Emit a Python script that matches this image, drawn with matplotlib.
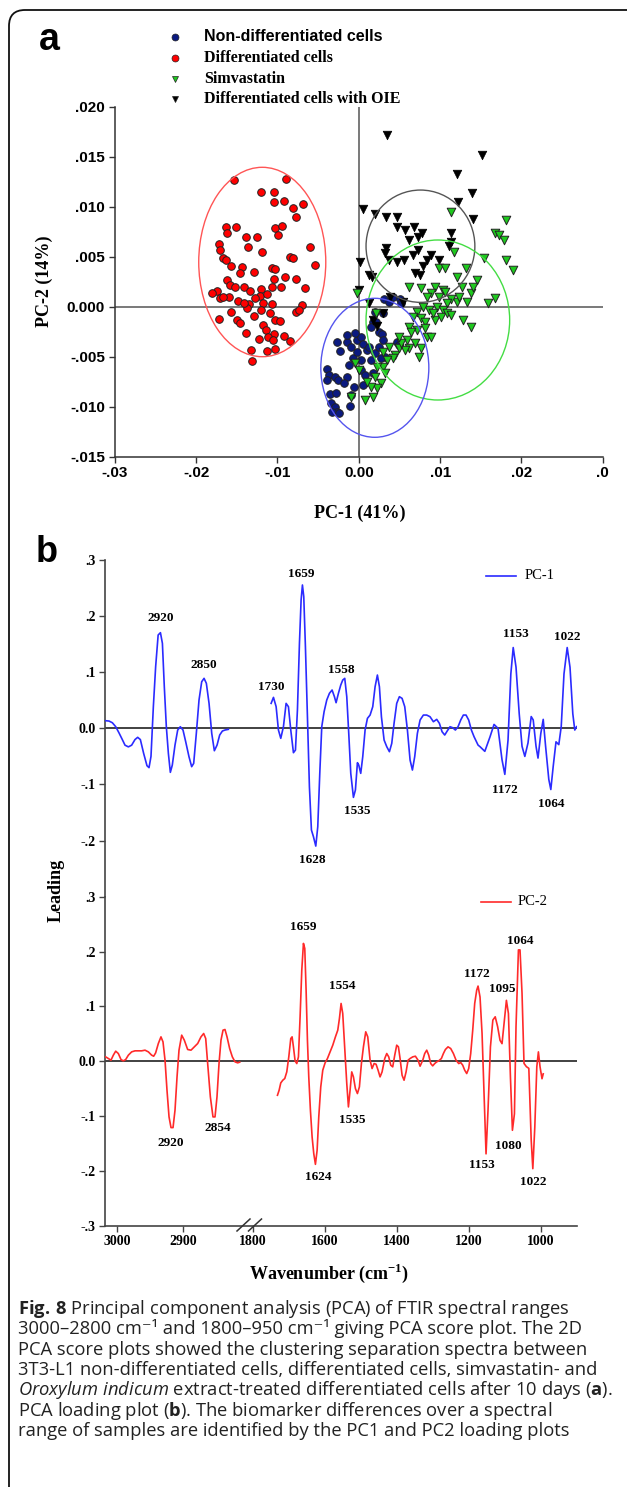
import numpy as np
import matplotlib
matplotlib.use("Agg")
import matplotlib.pyplot as plt
from matplotlib.patches import Ellipse, FancyBboxPatch
from matplotlib.lines import Line2D
from matplotlib.transforms import IdentityTransform

# ---------------- data: panel a (PCA scores) ----------------
nondiff_x = [0.00305, 0.00418, 0.00502, 0.00517, 0.00369, 0.00197, 0.00295, 0.00172, 0.00148, 0.00246,
             0.00207, -0.00271, -0.00148, -0.00025, -0.00098, 0.00025, 0.00049, 0.00098, 0.0028, 0.00295,
             0.00197, 0.0032, -0.00231, -0.00074, 0.00025, 0.00148, 0.00271, -0.00394, -0.00364, -0.00295,
             -0.00256, -0.00148, -0.00187, -0.00123, 0.00025, 0.00074, -0.00059, 0.00172, -0.00354, -0.00285,
             -0.00344, -0.00295, -0.00271, -0.00335, -0.00246, -0.00108, -0.00098, 0.00049, 0.00467, 0.00492,
             -0.00148, -0.00049, 0.00123, 0.00246, -0.00025, -0.00394]
nondiff_y = [0.00077, 0.001, 0.00073, 0.0004, 0.0005, -0.0005, -0.00067, -0.0015, -0.002, -0.0025,
             -0.0015, -0.0035, -0.00357, -0.00333, -0.004, -0.003, -0.00373, -0.00433, -0.00273, -0.00333,
             -0.00467, -0.005, -0.0044, -0.00517, -0.00533, -0.00533, -0.00517, -0.00627, -0.00683, -0.00707,
             -0.00733, -0.007, -0.00767, -0.00583, -0.00633, -0.00683, -0.008, -0.00667, -0.00873, -0.00867,
             -0.00967, -0.01, -0.0105, -0.0105, -0.01067, -0.0099, -0.00883, -0.00783, -0.0035, -0.00383,
             -0.00283, -0.00267, -0.004, -0.004, -0.0045, -0.00733]

diff_x = [-0.0154, -0.01205, -0.01048, -0.009, -0.01048, -0.00925, -0.00812, -0.00689, -0.00772, -0.01638,
          -0.01515, -0.01624, -0.01392, -0.01255, -0.01368, -0.01033, -0.00945, -0.00999, -0.01722, -0.01707,
          -0.01196, -0.00605, -0.01673, -0.01638, -0.01574, -0.01442, -0.00851, -0.00812, -0.00541, -0.01068,
          -0.01033, -0.01461, -0.01294, -0.01043, -0.0091, -0.01624, -0.01584, -0.01525, -0.01412, -0.01747,
          -0.01806, -0.01205, -0.01068, -0.00959, -0.00772, -0.00664, -0.01707, -0.01599, -0.01338, -0.0122,
          -0.01132, -0.01491, -0.01353, -0.01181, -0.01073, -0.00704, -0.01574, -0.01205, -0.01092, -0.00777,
          -0.00738, -0.01722, -0.01501, -0.01466, -0.01294, -0.01033, -0.00969, -0.01181, -0.01387, -0.01141,
          -0.01043, -0.01122, -0.0123, -0.01058, -0.00925, -0.00846, -0.01328, -0.01132, -0.01033, -0.01319,
          -0.01378, -0.01673, -0.01279, -0.01417]
diff_y = [0.01267, 0.01143, 0.01143, 0.01273, 0.0105, 0.0106, 0.0099, 0.01027, 0.00893, 0.00793,
          0.008, 0.0074, 0.00693, 0.007, 0.006, 0.00783, 0.00807, 0.00717, 0.00627, 0.00567,
          0.0055, 0.006, 0.00483, 0.00467, 0.00407, 0.004, 0.005, 0.0049, 0.0042, 0.00383,
          0.00373, 0.0034, 0.0035, 0.00273, 0.003, 0.00267, 0.00217, 0.002, 0.002, 0.0016,
          0.00133, 0.00173, 0.002, 0.002, 0.00273, 0.00183, 0.0009, 0.001, 0.0016, 0.00107,
          0.00127, 0.00057, 0.00027, 0.00033, 0.00023, 0.00017, -0.0005, -0.00033, -0.00067, -0.00057,
          -0.00033, -0.00127, -0.00133, -0.00167, -0.00093, -0.00133, -0.00143, -0.00187, -0.0026, -0.00233,
          -0.00277, -0.003, -0.00327, -0.00333, -0.00293, -0.00343, -0.00433, -0.00443, -0.00427, -0.00543,
          -0.00017, 0.001, 0.00083, 0.0004]

simva_x = [0.01132, 0.01811, 0.01673, 0.01722, 0.01781, 0.01535, 0.01811, 0.01894, 0.01176, 0.00984,
           0.01058, 0.01314, 0.01451, 0.0121, 0.00935, 0.01033, 0.01269, 0.01378, 0.01673, 0.01584,
           0.01328, 0.01205, 0.01132, 0.00615, 0.00763, 0.00886, 0.00984, 0.01082, 0.00959, 0.01033,
           0.00861, 0.00713, 0.00664, 0.00763, 0.00812, 0.00935, 0.01009, 0.01082, 0.01279, 0.01378,
           0.00615, 0.00713, 0.0064, 0.00812, 0.00836, 0.00886, 0.0059, 0.00689, 0.00763, 0.00615,
           0.00566, 0.00738, 0.00443, 0.00418, 0.00344, 0.00295, 0.0032, 0.00271, 0.00221, 0.00148,
           0.00172, 0.00074, 0.00197, 0.00098, -0.00098, -0.00049, 0.0, 0.00221, -0.0002, 0.00492,
           0.00517, 0.00787, 0.01132, 0.0091, 0.0123, 0.01402, 0.00492, 0.00369, 0.00295, 0.01058,
           0.00836, 0.00212]
simva_y = [0.0095, 0.00867, 0.0074, 0.00717, 0.00667, 0.00483, 0.00467, 0.00367, 0.0055, 0.0039,
           0.0039, 0.00383, 0.00267, 0.003, 0.002, 0.00167, 0.002, 0.00133, 0.00083, 0.00033,
           0.0005, 0.0005, 0.00073, 0.002, 0.00183, 0.00133, 0.001, 0.00033, 0.0, -0.00033,
           -0.00033, -0.0005, -0.001, -0.00117, -0.0015, -0.00133, -0.001, -0.00067, -0.00133, -0.002,
           -0.002, -0.00233, -0.0025, -0.00217, -0.003, -0.003, -0.00333, -0.00367, -0.00417, -0.00417,
           -0.00433, -0.005, -0.00483, -0.00517, -0.00533, -0.006, -0.00667, -0.00767, -0.00817, -0.008,
           -0.009, -0.00933, -0.007, -0.0075, -0.009, -0.00567, -0.00633, -0.006, 0.00133, -0.00417,
           -0.00367, 0.0, -0.00083, -0.00067, 0.001, 0.002, -0.003, -0.004, -0.0045, 0.0015,
           0.001, -0.0006]

oie_x = [0.00344, 0.01515, 0.01205, 0.01392, 0.01215, 0.00049, 0.00197, 0.00335, 0.00472, 0.00472,
         0.00674, 0.00566, 0.00772, 0.00728, 0.00615, 0.01136, 0.01402, 0.0033, 0.00325, 0.00472,
         0.00551, 0.00369, 0.00664, 0.00728, 0.00891, 0.00841, 0.00787, 0.00758, 0.0002, 0.00123,
         0.00157, 0.01132, 0.01107, 0.0, 0.00123, 0.00295, 0.00172, 0.00221, 0.00384, 0.00541,
         0.00984, 0.00689]
oie_y = [0.0172, 0.01517, 0.01323, 0.0114, 0.0105, 0.00973, 0.00927, 0.009, 0.00893, 0.00793,
         0.008, 0.00767, 0.0074, 0.007, 0.00667, 0.00733, 0.00877, 0.00583, 0.00533, 0.0045,
         0.00467, 0.00467, 0.00517, 0.00567, 0.00517, 0.00467, 0.00407, 0.00317, 0.0045, 0.00317,
         0.00293, 0.0065, 0.00607, 0.00167, 0.0004, -0.0006, -0.00133, -0.00193, 0.001, 0.0005,
         0.00467, 0.00333]

# confidence ellipses: centre x, centre y, width, height
ell_diff = (-0.01187, 0.00447, 0.01562, 0.01894)
ell_oie = (0.00758, 0.00605, 0.01338, 0.01123)
ell_simva = (0.00972, -0.00133, 0.01766, 0.0160)
ell_nondiff = (0.00197, -0.00611, 0.01328, 0.0139)

a_xticks = [-0.03, -0.02, -0.01, 0.0, 0.01, 0.02, 0.03]
a_xticklabels = ["-.03", "-.02", "-.01", "0.00", ".01", ".02", ".0"]
a_yticks = [-0.015, -0.010, -0.005, 0.0, 0.005, 0.010, 0.015, 0.020]
a_yticklabels = ["-.015", "-.010", "-.005", "0.000", ".005", ".010", ".015", ".020"]

# ---------------- data: panel b (PCA loadings) ----------------
pc1_left_w = [3017.6, 3012.5, 3007.4, 3002.3, 2997.3, 2992.2, 2988.1, 2983.0, 2978.0, 2972.9,
              2968.8, 2964.7, 2959.7, 2954.6, 2951.5, 2948.5, 2944.9, 2941.4, 2937.6, 2934.1,
              2931.1, 2928.2, 2925.1, 2922.0, 2919.0, 2916.0, 2911.9, 2907.8, 2903.8, 2899.7,
              2895.6, 2890.6, 2886.5, 2883.4, 2879.4, 2875.3, 2871.2, 2867.6, 2864.1, 2860.0,
              2855.9, 2851.9, 2847.8, 2843.8, 2839.7, 2835.7, 2830.6]
pc1_left_v = [0.0136, 0.013, 0.010, 0.0030, -0.0080, -0.0200, -0.0300, -0.0330, -0.0300, -0.0200,
              -0.0160, -0.0200, -0.0446, -0.0666, -0.0700, -0.0500, 0.0386, 0.1099, 0.1663, 0.1705,
              0.1515, 0.0742, 0.0029, -0.0446, -0.0784, -0.0654, -0.0298, -0.0030, 0.0029, -0.0030,
              -0.0238, -0.0505, -0.0683, -0.0624, -0.0090, 0.0504, 0.0831, 0.0891, 0.0802, 0.0445,
              -0.0090, -0.0399, -0.0298, -0.0119, -0.0048, -0.0030, -0.0018]

pc1_right_w = [1749.4, 1742.9, 1735.5, 1729.1, 1722.6, 1715.2, 1707.8, 1701.3, 1694.8, 1687.4,
               1681.8, 1676.3, 1670.7, 1666.1, 1662.4, 1658.7, 1654.1, 1648.5, 1643.0, 1637.4,
               1631.8, 1625.3, 1619.8, 1614.2, 1608.7, 1602.2, 1594.8, 1587.4, 1580.0, 1573.5,
               1568.9, 1562.4, 1555.9, 1550.4, 1544.8, 1539.2, 1533.7, 1528.1, 1520.7, 1515.2,
               1509.6, 1505.9, 1500.4, 1494.8, 1488.3, 1481.8, 1474.4, 1467.0, 1460.5, 1454.1,
               1448.5, 1442.9, 1435.5, 1428.1, 1420.7, 1414.2, 1407.8, 1400.4, 1393.0, 1385.5,
               1378.1, 1370.7, 1363.3, 1356.8, 1350.4, 1343.0, 1335.5, 1326.3, 1317.1, 1307.8,
               1298.5, 1289.2, 1281.8, 1274.4, 1267.0, 1259.6, 1252.2, 1244.8, 1237.4, 1230.0,
               1222.6, 1215.2, 1207.8, 1200.4, 1192.9, 1185.5, 1174.4, 1168.9, 1155.6, 1141.1,
               1130.0, 1118.9, 1107.8, 1100.0, 1091.1, 1083.3, 1076.7, 1068.9, 1060.0, 1052.2,
               1044.4, 1035.6, 1026.7, 1021.1, 1013.3, 1007.8, 1000.0, 993.3, 986.7, 977.8,
               972.2, 965.6, 957.8, 950.0, 943.3, 935.6, 926.7, 918.9, 911.1, 905.6, 900.5]
pc1_right_v = [0.0445, 0.0552, 0.0386, -0.0030, -0.0178, 0.0029, 0.0445, 0.0386, -0.0030, -0.0434,
               -0.0387, 0.0326, 0.1515, 0.2287, 0.2555, 0.2347, 0.1455, 0.0207, -0.1040, -0.1812,
               -0.1931, -0.2098, -0.1753, -0.0802, 0.0029, 0.0297, 0.0505, 0.0624, 0.0683, 0.0564,
               0.0457, 0.0624, 0.0772, 0.0861, 0.0891, 0.0564, -0.0090, -0.0802, -0.1230, -0.1099,
               -0.0612, -0.0654, -0.0802, -0.0505, -0.0030, 0.0178, 0.0237, 0.0386, 0.0742, 0.0950,
               0.0742, 0.0207, -0.0208, -0.0327, -0.0416, -0.0268, 0.0089, 0.0445, 0.0564, 0.0534,
               0.0386, -0.0030, -0.0565, -0.0743, -0.0505, -0.0090, 0.0148, 0.0237, 0.0237, 0.0207,
               0.0118, 0.0160, 0.0089, -0.0060, -0.0119, -0.0042, 0.0029, 0.0011, -0.0030, 0.0029,
               0.0148, 0.0237, 0.0237, 0.0148, -0.0030, -0.0149, -0.0298, -0.0327, -0.041, -0.015,
               0.007, 0.000, -0.056, -0.082, -0.021, 0.097, 0.144, 0.109, 0.026, -0.032,
               -0.050, -0.026, 0.021, 0.015, -0.032, -0.053, -0.009, 0.016, -0.032, -0.091,
               -0.109, -0.068, -0.024, -0.029, 0.003, 0.097, 0.144, 0.109, 0.026, -0.003, 0.003]

pc2_left_w = [3017.6, 3013.5, 3009.5, 3005.9, 3002.3, 2998.3, 2994.2, 2990.7, 2987.1, 2983.0,
              2978.0, 2972.9, 2967.8, 2962.7, 2957.6, 2952.5, 2947.5, 2944.4, 2941.4, 2937.3,
              2933.3, 2930.2, 2927.1, 2924.1, 2921.0, 2918.0, 2914.9, 2911.9, 2908.8, 2905.8,
              2901.7, 2897.7, 2892.6, 2887.5, 2882.4, 2877.3, 2872.3, 2868.2, 2865.1, 2862.1,
              2858.0, 2854.0, 2850.9, 2847.9, 2844.8, 2841.8, 2838.7, 2835.7, 2832.6, 2828.6,
              2824.5, 2820.4, 2816.4, 2813.3]
pc2_left_v = [0.0079, 0.0049, 0.0018, 0.0110, 0.0183, 0.0140, 0.0030, 0.0006, 0.0030, 0.0110,
              0.0170, 0.0189, 0.0189, 0.0189, 0.0201, 0.0170, 0.0110, 0.0091, 0.0152, 0.0323,
              0.0444, 0.0353, 0.0018, -0.0530, -0.1016, -0.1211, -0.1211, -0.0895, -0.0286, 0.0201,
              0.0475, 0.0383, 0.0213, 0.0201, 0.0262, 0.0323, 0.0444, 0.0505, 0.0414, -0.0043,
              -0.0651, -0.1016, -0.1016, -0.0651, -0.0043, 0.0383, 0.0566, 0.0578, 0.0444, 0.0231,
              0.0079, -0.0012, -0.0030, -0.0018]

pc2_right_w = [1731.8, 1727.2, 1722.6, 1717.0, 1711.5, 1705.9, 1700.3, 1694.8, 1691.1, 1687.4,
               1682.8, 1678.1, 1673.5, 1668.9, 1664.2, 1659.6, 1655.9, 1652.2, 1648.5, 1644.8,
               1640.2, 1635.5, 1630.9, 1626.3, 1621.6, 1617.0, 1611.5, 1605.9, 1599.4, 1592.9,
               1585.5, 1578.1, 1570.7, 1564.2, 1559.6, 1555.0, 1550.4, 1546.6, 1542.9, 1539.2,
               1534.6, 1530.0, 1525.4, 1520.7, 1515.2, 1509.6, 1504.1, 1498.5, 1492.9, 1486.5,
               1480.9, 1474.4, 1468.9, 1463.3, 1457.8, 1452.2, 1446.7, 1441.1, 1433.7, 1428.1,
               1422.6, 1417.0, 1411.5, 1405.9, 1400.4, 1395.7, 1391.1, 1385.5, 1380.0, 1374.4,
               1368.9, 1363.3, 1355.9, 1348.5, 1341.1, 1335.5, 1328.1, 1322.6, 1317.0, 1311.5,
               1305.9, 1300.4, 1294.8, 1289.2, 1283.7, 1276.3, 1270.7, 1265.2, 1257.8, 1250.4,
               1242.9, 1235.5, 1228.1, 1222.6, 1217.0, 1211.5, 1205.9, 1200.4, 1194.8, 1189.2,
               1183.7, 1178.1, 1174.4, 1168.9, 1163.3, 1157.8, 1152.2, 1146.7, 1140.0, 1133.3,
               1126.7, 1120.0, 1113.3, 1107.8, 1102.2, 1095.6, 1090.0, 1084.4, 1078.9, 1073.3,
               1068.9, 1062.2, 1057.8, 1052.2, 1046.7, 1040.0, 1033.3, 1026.7, 1022.2, 1016.7,
               1011.1, 1006.7, 1002.2, 996.7, 993.3]
pc2_right_v = [-0.0621, -0.0530, -0.0396, -0.0347, -0.0316, -0.0195, 0.0079, 0.0414, 0.0444, 0.0262,
               0.0006, -0.0043, 0.0079, 0.0809, 0.1662, 0.2148, 0.2057, 0.1296, 0.0383, -0.0286,
               -0.0895, -0.1382, -0.1686, -0.1881, -0.1625, -0.1016, -0.0469, -0.0164, -0.0030, 0.0049,
               0.0170, 0.0292, 0.0444, 0.0566, 0.0779, 0.1053, 0.0870, 0.0444, 0.0018, -0.0408,
               -0.0834, -0.0530, -0.0195, -0.0286, -0.0499, -0.0590, -0.0469, -0.0043, 0.0262, 0.0536,
               0.0444, 0.0018, -0.0134, -0.0043, -0.0055, -0.0164, -0.0286, -0.0195, 0.0049, 0.0140,
               0.0079, -0.0073, -0.0103, 0.0110, 0.0292, 0.0262, 0.0049, -0.0256, -0.0347, -0.0195,
               0.0018, 0.0049, 0.0079, 0.0091, 0.0018, -0.0091, 0.0018, 0.0140, 0.0201, 0.0110,
               -0.0043, -0.0085, -0.0043, -0.0012, 0.0006, 0.0049, 0.0140, 0.0213, 0.0262, 0.0231,
               0.0140, 0.0018, -0.0043, -0.0024, -0.0073, -0.0164, -0.0225, -0.0134, 0.0140, 0.0566,
               0.1053, 0.1296, 0.137, 0.117, 0.051, -0.059, -0.169, -0.089, 0.026, 0.075,
               0.081, 0.063, 0.038, 0.032, 0.069, 0.111, 0.087, -0.029, -0.126, -0.096,
               0.063, 0.203, 0.203, 0.124, -0.004, -0.010, -0.013, -0.144, -0.196, -0.120,
               -0.010, 0.017, -0.010, -0.032, -0.023]

b_xticks = [3000, 2900, 1800, 1600, 1400, 1200, 1000]
b_xticklabels = ["3000", "2900", "1800", "1600", "1400", "1200", "1000"]
b1_yticks = [-0.2, -0.1, 0.0, 0.1, 0.2, 0.3]
b1_yticklabels = ["-.2", "-.1", "0.0", ".1", ".2", ".3"]
b2_yticks = [-0.3, -0.2, -0.1, 0.0, 0.1, 0.2, 0.3]
b2_yticklabels = ["-.3", "-.2", "-.1", "0.0", ".1", ".2", ".3"]

pc1_labels = ["2920", "2850", "1730", "1659", "1558", "1535", "1628", "1153", "1022", "1172", "1064"]
pc1_label_w = [2933, 2868, 1750, 1667, 1554, 1510, 1636, 1069, 927, 1100, 971]
pc1_label_v = [0.196, 0.112, 0.074, 0.275, 0.104, -0.147, -0.235, 0.168, 0.163, -0.109, -0.134]
pc2_labels = ["1659", "1554", "1172", "1095", "1064", "2920", "2854", "1535", "1624", "1153", "1080", "1022"]
pc2_label_w = [1661, 1552, 1177, 1108, 1058, 2918, 2846, 1524, 1619, 1163, 1091, 1022]
pc2_label_v = [0.245, 0.137, 0.159, 0.132, 0.220, -0.150, -0.122, -0.107, -0.211, -0.189, -0.154, -0.221]

caption_lines = [
    r"$\mathsf{Fig.\,8}$ Principal component analysis (PCA) of FTIR spectral ranges",
    "3000–2800 cm\u207b\u00b9 and 1800–950 cm\u207b\u00b9 giving PCA score plot. The 2D",
    "PCA score plots showed the clustering separation spectra between",
    "3T3-L1 non-differentiated cells, differentiated cells, simvastatin- and",
    r"$\mathit{Oroxylum\ indicum}$ extract-treated differentiated cells after 10 days ($\mathsf{a}$).",
    r"PCA loading plot ($\mathsf{b}$). The biomarker differences over a spectral",
    "range of samples are identified by the PC1 and PC2 loading plots",
]

# ---------------- figure ----------------
plt.rcParams['mathtext.fontset'] = 'custom'
plt.rcParams['mathtext.rm'] = 'Open Sans'
plt.rcParams['mathtext.sf'] = 'Open Sans:bold'
plt.rcParams['mathtext.it'] = 'Open Sans:italic'
plt.rcParams['mathtext.bf'] = 'Liberation Serif:bold'

W, H = 627, 1487
fig = plt.figure(figsize=(W / 100, H / 100), dpi=100)


def fx(px):
    return px / W


def fy(py):
    return 1 - py / H


SANS_B = dict(family="Liberation Sans", weight="bold")
SERIF_B = dict(family="Liberation Serif", weight="bold")

# outer rounded frame
frame = FancyBboxPatch((9, -30), 680, 1507, boxstyle="round,pad=0,rounding_size=16",
                       transform=IdentityTransform(), fill=False, ec="#111111", lw=1.3)
fig.add_artist(frame)

# ---------------- panel a ----------------
axa = fig.add_axes([fx(114.8), fy(456.7), fx(602.8) - fx(114.8), (456.7 - 106.7) / H])
axa.set_xlim(-0.03, 0.03)
axa.set_ylim(-0.015, 0.020)
axa.axhline(0, color="#555555", lw=1.1, zorder=1)
axa.axvline(0, color="#555555", lw=1.1, zorder=1)
edge = "#222222"
axa.scatter(diff_x, diff_y, s=30, marker="o", c="#ff0000", edgecolors=edge, linewidths=0.7, zorder=3)
axa.scatter(nondiff_x, nondiff_y, s=30, marker="o", c="#0b1a80", edgecolors=edge, linewidths=0.7, zorder=3)
axa.scatter(oie_x, oie_y, s=38, marker="v", c="#000000", edgecolors="#000000", linewidths=0.5, zorder=3)
axa.scatter(simva_x, simva_y, s=38, marker="v", c="#1ec81e", edgecolors=edge, linewidths=0.7, zorder=4)
for (cx, cy, w, h), col in [(ell_diff, "#ff5555"), (ell_oie, "#555555"),
                            (ell_simva, "#44dd44"), (ell_nondiff, "#5555ee")]:
    axa.add_patch(Ellipse((cx, cy), w, h, fill=False, ec=col, lw=1.0, zorder=5))
for s in ["top", "right"]:
    axa.spines[s].set_visible(False)
for s in ["left", "bottom"]:
    axa.spines[s].set_color("#333333")
    axa.spines[s].set_linewidth(1.1)
axa.set_xticks(a_xticks)
axa.set_xticklabels(a_xticklabels, **SANS_B, fontsize=11)
axa.set_yticks(a_yticks)
axa.set_yticklabels(a_yticklabels, **SANS_B, fontsize=11)
axa.tick_params(direction="out", length=4, width=1, color="#333333", pad=3)

fig.text(fx(49), fy(40), "a", **SANS_B, fontsize=27, ha="center", va="center")
fig.text(fx(360), fy(513), "PC-1 (41%)", **SERIF_B, fontsize=13, ha="center", va="center")
fig.text(fx(44), fy(281), "PC-2 (14%)", **SERIF_B, fontsize=13, ha="center", va="center", rotation=90)

# legend (panel a)
leg_rows = [36.7, 58.3, 79.0, 99.3]
leg_items = [("o", "#0b1a80", "Non-differentiated cells", SANS_B),
             ("o", "#ff0000", "Differentiated cells", SERIF_B),
             ("v", "#1ec81e", "Simvastatin", SERIF_B),
             ("v", "#000000", "Differentiated cells with OIE", SERIF_B)]
for py, (m, c, lab, fnt) in zip(leg_rows, leg_items):
    fig.add_artist(Line2D([fx(175)], [fy(py)], marker=m, color=c, markersize=5,
                          markeredgecolor="#222222", markeredgewidth=0.5, linestyle="none"))
    fig.text(fx(204), fy(py), lab, **fnt, fontsize=11.5, ha="left", va="center")

# ---------------- panel b (broken wavenumber axis) ----------------
brk_w = np.array([900.0, 1810.6, 2799.1, 3018.3])
brk_t = np.array([-471.6, -143.9, -143.8, 0.0])   # increasing transform


def fwd(w):
    return np.interp(np.asarray(w, dtype=float), brk_w, brk_t)


def inv(t):
    return np.interp(np.asarray(t, dtype=float), brk_t, brk_w)


axb1 = fig.add_axes([fx(105.2), fy(896.7), fx(576.8) - fx(105.2), (896.7 - 560.0) / H])
axb2 = fig.add_axes([fx(105.2), fy(1225.7), fx(576.8) - fx(105.2), (1225.7 - 896.7) / H])

for ax in (axb1, axb2):
    ax.set_xscale("function", functions=(fwd, inv))
    ax.set_xlim(3018.3, 900.0)
    ax.set_ylim(-0.3, 0.3)
    ax.axhline(0, color="#333333", lw=1.3, zorder=1)
    for s in ["top", "right"]:
        ax.spines[s].set_visible(False)
    for s in ["left", "bottom"]:
        ax.spines[s].set_color("#444444")
        ax.spines[s].set_linewidth(1.2)
    ax.tick_params(direction="out", length=4, width=1, color="#444444", pad=3)

axb1.plot(pc1_left_w, pc1_left_v, color="#2b2bff", lw=1.2, zorder=3)
axb1.plot(pc1_right_w, pc1_right_v, color="#2b2bff", lw=1.2, zorder=3)
axb2.plot(pc2_left_w, pc2_left_v, color="#ff2a2a", lw=1.2, zorder=3)
axb2.plot(pc2_right_w, pc2_right_v, color="#ff2a2a", lw=1.2, zorder=3)

axb1.spines["bottom"].set_visible(False)
axb1.set_xticks([])
axb1.minorticks_off()
axb1.set_yticks(b1_yticks)
axb1.set_yticklabels(b1_yticklabels, **SERIF_B, fontsize=10)

axb2.set_xticks(b_xticks)
axb2.set_xticklabels(b_xticklabels, **SERIF_B, fontsize=10)
axb2.minorticks_off()
axb2.set_yticks(b2_yticks)
axb2.set_yticklabels(b2_yticklabels, **SERIF_B, fontsize=10)

for lab, w, v in zip(pc1_labels, pc1_label_w, pc1_label_v):
    axb1.text(w, v, lab, **SERIF_B, fontsize=9.5, ha="center", va="center")
for lab, w, v in zip(pc2_labels, pc2_label_w, pc2_label_v):
    axb2.text(w, v, lab, **SERIF_B, fontsize=9.5, ha="center", va="center")

# legends (panel b)
fig.add_artist(Line2D([fx(486), fx(516)], [fy(575.7)] * 2, color="#2b2bff", lw=1.2))
fig.text(fx(525), fy(575.7), "PC-1", family="Liberation Serif", fontsize=10.5, ha="left", va="center")
fig.add_artist(Line2D([fx(481), fx(511)], [fy(901.7)] * 2, color="#ff2a2a", lw=1.2))
fig.text(fx(518), fy(901.7), "PC-2", family="Liberation Serif", fontsize=10.5, ha="left", va="center")

# axis break marks
for x0 in (237.0, 248.5):
    fig.add_artist(Line2D([fx(x0), fx(x0 + 13)], [fy(1231), fy(1219)], color="#333333", lw=1.1))

fig.text(fx(47), fy(552), "b", **SANS_B, fontsize=26, ha="center", va="center")
fig.text(fx(56), fy(890), "Leading", **SERIF_B, fontsize=13, ha="center", va="center", rotation=90)
fig.text(fx(329), fy(1273), r"Wavenumber (cm$^{\mathbf{-1}}$)", **SERIF_B, fontsize=13,
         ha="center", va="center")

# ---------------- caption ----------------
cap_baselines = [1313.8, 1334.5, 1354.8, 1375.0, 1395.3, 1415.5, 1436.0]
for py, line in zip(cap_baselines, caption_lines):
    fig.text(fx(18), fy(py), line, family=["Open Sans", "DejaVu Sans"], fontsize=13.2,
             ha="left", va="baseline", color="#222222")

fig.savefig("out.png", dpi=100)
